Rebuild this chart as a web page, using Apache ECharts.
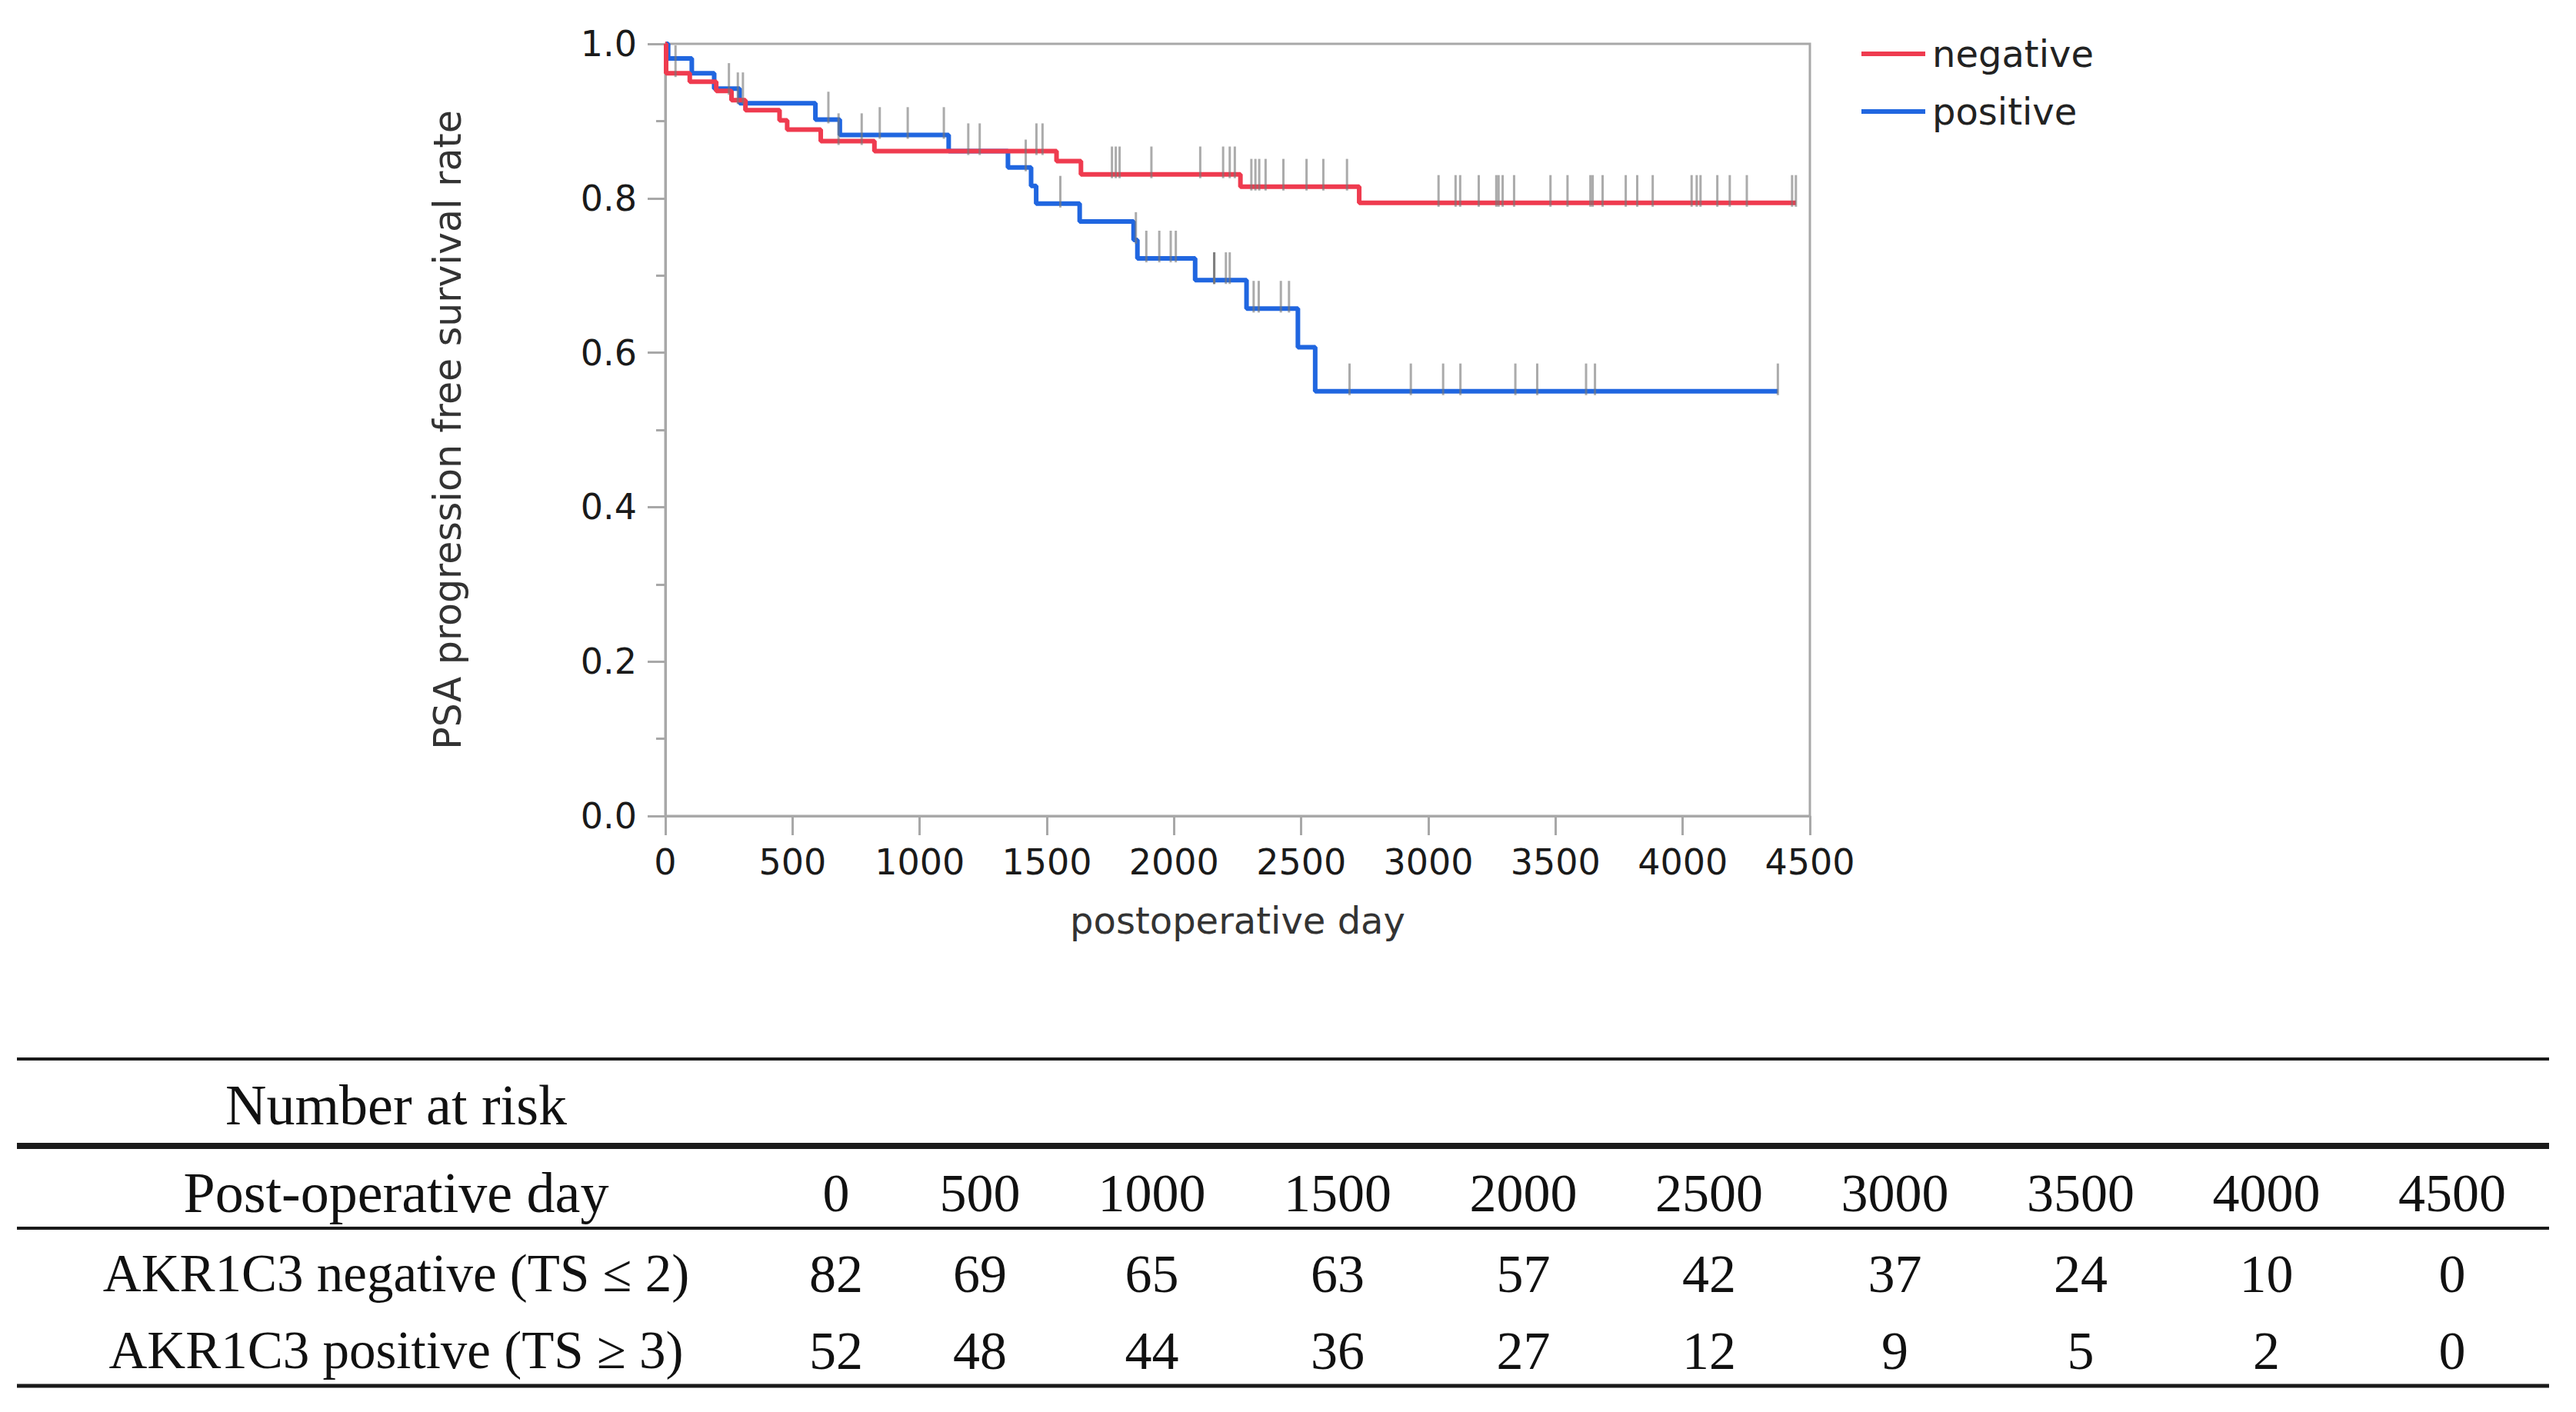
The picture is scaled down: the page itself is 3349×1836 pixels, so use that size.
<!DOCTYPE html>
<html>
<head>
<meta charset="utf-8">
<script src="https://cdn.jsdelivr.net/npm/echarts@6/dist/echarts.min.js"></script>
<style>
  html, body { margin: 0; padding: 0; background: #ffffff; }
  #chart { width: 3349px; height: 1836px; }
</style>
</head>
<body>
<div id="chart"></div>
<script>
// ---- Data ----
// Kaplan-Meier step curves (day, survival)
const negDays = [0, 3, 96, 200, 260, 315, 449, 479, 611, 822, 1538, 1634, 2261, 2728, 4445];
const negSurv = [1.0, 0.962, 0.951, 0.939, 0.927, 0.914, 0.901, 0.889, 0.874, 0.861, 0.848, 0.831, 0.815, 0.794, 0.794];
const posDays = [0, 11, 104, 192, 292, 590, 686, 1114, 1347, 1438, 1458, 1629, 1841, 1856, 2083, 2285, 2487, 2555, 4374];
const posSurv = [1.0, 0.981, 0.962, 0.942, 0.923, 0.902, 0.882, 0.861, 0.840, 0.816, 0.793, 0.770, 0.746, 0.722, 0.694, 0.657, 0.607, 0.550, 0.550];
// Censoring times (days)
const negCensor = [40, 250, 285, 305, 681, 772, 1191, 1236, 1459, 1483, 1756, 1771, 1786, 1911, 2103, 2193, 2219, 2239,
  2304, 2320, 2335, 2360, 2430, 2521, 2587, 2680, 3040, 3107, 3125, 3198, 3267, 3276, 3292, 3337, 3480, 3547,
  3637, 3646, 3685, 3776, 3821, 3882, 4035, 4055, 4070, 4136, 4185, 4252, 4430, 4445];
const posCensor = [641, 843, 953, 1095, 1417, 1553, 1850, 1891, 1942, 1987, 2007, 2158, 2158, 2158, 2204, 2219,
  2313, 2333, 2420, 2452, 2690, 2931, 3058, 3126, 3342, 3428, 3620, 3655, 4374];
// Number-at-risk table
const riskDays = [0, 500, 1000, 1500, 2000, 2500, 3000, 3500, 4000, 4500];
const riskNeg = [82, 69, 65, 63, 57, 42, 37, 24, 10, 0];
const riskPos = [52, 48, 44, 36, 27, 12, 9, 5, 2, 0];
const riskTitle = 'Number at risk';
const riskHeader = 'Post-operative day';
const riskRowLabels = ['AKR1C3 negative (TS \u2264 2)', 'AKR1C3 positive (TS \u2265 3)'];
const seriesNames = ['negative', 'positive'];
const xTitle = 'postoperative day';
const yTitle = 'PSA progression free survival rate';

// ---- helpers ----
function zip(a, b) { return a.map((v, i) => [v, b[i]]); }
function kmAt(days, surv, t) {
  let v = surv[0];
  for (let i = 0; i < days.length; i++) { if (days[i] <= t) v = surv[i]; }
  return v;
}
const negCensorData = negCensor.map(t => [t, kmAt(negDays, negSurv, t)]);
const posCensorData = posCensor.map(t => [t, kmAt(posDays, posSurv, t)]);

const RED = '#ef3b4f';
const BLUE = '#2066e0';
const AXIS = '#a8a8a8';
const SANS = '"DejaVu Sans", Verdana, sans-serif';
const SERIF = '"Liberation Serif", "Times New Roman", serif';

function censorRender(params, api) {
  const x = api.value(0), y = api.value(1);
  const p0 = api.coord([x, y - 0.005]);
  const p1 = api.coord([x, y + 0.036]);
  return {
    type: 'line',
    shape: { x1: p0[0], y1: p0[1], x2: p1[0], y2: p1[1] },
    style: { stroke: 'rgba(120,120,120,0.62)', lineWidth: 3 }
  };
}

// ---- table (graphic) ----
const colX = riskDays.map((d, i) => i === 0 ? 1087 : (i === 1 ? 1274 : 1497.5 + 241.5 * (i - 2)));
const labelX = 515;
const tableLineX1 = 22, tableLineX2 = 3314;
const graphics = [];
function hline(y, w) {
  graphics.push({ type: 'line', shape: { x1: tableLineX1, y1: y, x2: tableLineX2, y2: y },
    style: { stroke: '#1a1a1a', lineWidth: w } });
}
function txt(x, y, s, size) {
  graphics.push({ type: 'text', x: x, y: y,
    style: { text: String(s), fontSize: size || 70, fontFamily: SERIF, fill: '#111', align: 'center', verticalAlign: 'middle' } });
}
hline(1377, 4); hline(1490, 8); hline(1597, 4); hline(1802, 5);
txt(labelX, 1437, riskTitle, 74);
txt(labelX, 1551, riskHeader, 74);
riskDays.forEach((d, i) => txt(colX[i], 1551, d));
txt(labelX, 1656, riskRowLabels[0], 69);
riskNeg.forEach((v, i) => txt(colX[i], 1656, v));
txt(labelX, 1756, riskRowLabels[1], 69);
riskPos.forEach((v, i) => txt(colX[i], 1756, v));

const chart = echarts.init(document.getElementById('chart'), null, { renderer: 'svg', width: 3349, height: 1836 });
chart.setOption({
  animation: false,
  backgroundColor: '#ffffff',
  grid: {
    left: 865, top: 57, width: 1488, height: 1004,
    show: true, borderColor: AXIS, borderWidth: 3, backgroundColor: 'transparent',
    containLabel: false, outerBoundsMode: 'none'
  },
  legend: {
    data: seriesNames,
    orient: 'vertical', left: 2420, top: 42, padding: 0,
    itemWidth: 83, itemHeight: 6, itemGap: 19, icon: 'rect',
    textStyle: { fontSize: 48, fontFamily: SANS, color: '#222', lineHeight: 56, padding: [0, 0, 0, 4] }
  },
  xAxis: {
    type: 'value', min: 0, max: 4500, interval: 500,
    name: xTitle, nameLocation: 'middle', nameGap: 112,
    nameTextStyle: { fontSize: 48, fontFamily: SANS, color: '#333' },
    axisLine: { show: true, lineStyle: { color: AXIS, width: 3 } },
    axisTick: { show: true, inside: false, length: 25, lineStyle: { color: AXIS, width: 3 } },
    axisLabel: { fontSize: 46, fontFamily: SANS, color: '#1a1a1a', margin: 37, formatter: v => String(v) },
    splitLine: { show: false }
  },
  yAxis: {
    type: 'value', min: 0, max: 1, interval: 0.2,
    name: yTitle, nameLocation: 'middle', nameGap: 258, nameRotate: 90,
    nameTextStyle: { fontSize: 49, fontFamily: SANS, color: '#333' },
    axisLine: { show: true, lineStyle: { color: AXIS, width: 3 } },
    axisTick: { show: true, inside: false, length: 23, lineStyle: { color: AXIS, width: 3 } },
    minorTick: { show: true, splitNumber: 2, length: 12, lineStyle: { color: AXIS, width: 3 } },
    axisLabel: { fontSize: 46, fontFamily: SANS, color: '#1a1a1a', margin: 37, formatter: v => v.toFixed(1) },
    splitLine: { show: false }, minorSplitLine: { show: false }
  },
  series: [
    { type: 'line', name: seriesNames[1], step: 'end', data: zip(posDays, posSurv),
      symbol: 'none', showSymbol: false, lineStyle: { color: BLUE, width: 6 }, itemStyle: { color: BLUE }, z: 2 },
    { type: 'line', name: seriesNames[0], step: 'end', data: zip(negDays, negSurv),
      symbol: 'none', showSymbol: false, lineStyle: { color: RED, width: 6 }, itemStyle: { color: RED }, z: 3 },
    { type: 'custom', name: 'positive censored', data: posCensorData, renderItem: censorRender,
      encode: { x: 0, y: 1 }, z: 4, silent: true },
    { type: 'custom', name: 'negative censored', data: negCensorData, renderItem: censorRender,
      encode: { x: 0, y: 1 }, z: 4, silent: true }
  ],
  graphic: graphics
});
</script>
</body>
</html>
